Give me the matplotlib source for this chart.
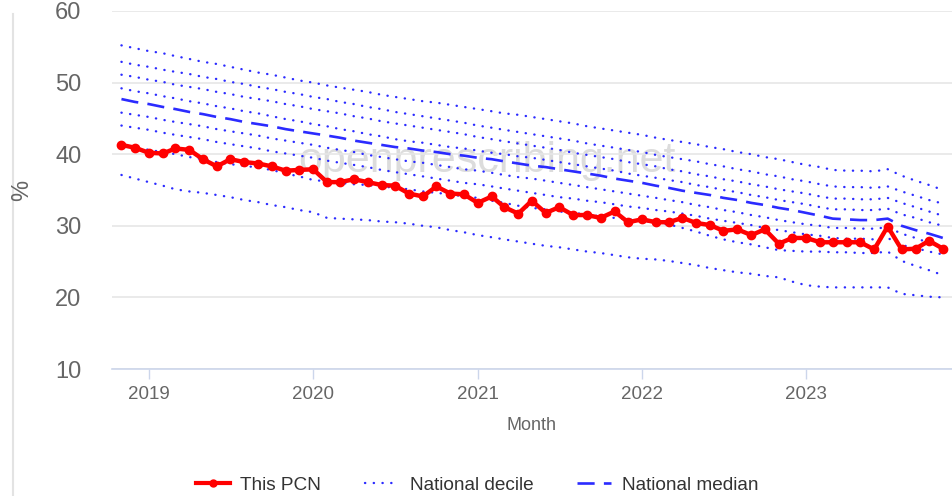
import datetime as dt
import pandas as pd
import matplotlib
matplotlib.use("Agg")
import matplotlib.pyplot as plt
import matplotlib.dates as mdates
from matplotlib.lines import Line2D

plt.rcParams['font.family'] = ['Liberation Sans', 'DejaVu Sans']

# monthly values, Nov 2018 .. Nov 2023
months = pd.date_range('2018-11-01', periods=61, freq='MS')

this_pcn = [41.3, 40.9, 40.2, 40.1, 40.8, 40.6, 39.3, 38.3, 39.3, 38.9,
            38.7, 38.3, 37.7, 37.8, 37.9, 36.1, 36.1, 36.5, 36.1, 35.7,
            35.6, 34.5, 34.1, 35.5, 34.5, 34.4, 33.2, 34.1, 32.6, 31.7,
            33.5, 31.8, 32.6, 31.5, 31.5, 31.1, 32.0, 30.5, 30.9, 30.5,
            30.5, 31.1, 30.4, 30.1, 29.3, 29.5, 28.7, 29.5, 27.5, 28.3,
            28.3, 27.7, 27.7, 27.7, 27.7, 26.7, 29.9, 26.7, 26.8, 27.9,
            26.8]

p90 = [55.2, 54.8, 54.4, 54.1, 53.7, 53.3, 52.9, 52.6, 52.2, 51.8,
       51.4, 51.1, 50.7, 50.3, 50.0, 49.6, 49.3, 49.0, 48.7, 48.3,
       48.0, 47.7, 47.4, 47.2, 46.9, 46.6, 46.3, 46.0, 45.7, 45.5,
       45.2, 44.9, 44.6, 44.3, 43.9, 43.6, 43.3, 43.0, 42.7, 42.3,
       42.0, 41.7, 41.4, 41.0, 40.7, 40.3, 40.0, 39.6, 39.3, 38.9,
       38.5, 38.2, 37.8, 37.7, 37.7, 37.6, 37.9, 37.0, 36.3, 35.7,
       35.0]
p80 = [52.9, 52.5, 52.2, 51.8, 51.5, 51.2, 50.8, 50.5, 50.1, 49.8,
       49.4, 49.1, 48.7, 48.4, 48.0, 47.7, 47.3, 47.0, 46.6, 46.3,
       45.9, 45.6, 45.3, 45.0, 44.7, 44.4, 44.0, 43.7, 43.4, 43.1,
       42.8, 42.5, 42.2, 41.9, 41.5, 41.2, 40.9, 40.6, 40.3, 39.9,
       39.6, 39.3, 39.0, 38.6, 38.3, 37.9, 37.6, 37.2, 36.9, 36.5,
       36.2, 35.8, 35.5, 35.4, 35.4, 35.3, 35.5, 34.8, 34.2, 33.6,
       33.1]
p70 = [51.1, 50.8, 50.4, 50.1, 49.7, 49.4, 49.1, 48.7, 48.4, 48.0,
       47.7, 47.4, 47.0, 46.7, 46.3, 46.0, 45.7, 45.3, 45.0, 44.6,
       44.3, 44.0, 43.7, 43.4, 43.1, 42.8, 42.4, 42.1, 41.8, 41.5,
       41.2, 40.9, 40.6, 40.2, 39.9, 39.6, 39.3, 38.9, 38.6, 38.3,
       37.9, 37.6, 37.2, 36.9, 36.5, 36.2, 35.8, 35.5, 35.1, 34.8,
       34.5, 34.1, 33.8, 33.8, 33.7, 33.7, 33.9, 33.2, 32.6, 32.0,
       31.4]
p60 = [49.2, 48.8, 48.5, 48.1, 47.8, 47.4, 47.1, 46.7, 46.4, 46.0,
       45.7, 45.3, 44.9, 44.6, 44.2, 43.9, 43.5, 43.2, 42.8, 42.5,
       42.1, 41.8, 41.6, 41.3, 41.0, 40.8, 40.5, 40.2, 40.0, 39.7,
       39.5, 39.2, 38.9, 38.6, 38.3, 38.0, 37.7, 37.3, 37.0, 36.7,
       36.4, 36.1, 35.7, 35.4, 35.0, 34.7, 34.3, 34.0, 33.6, 33.3,
       33.0, 32.6, 32.3, 32.3, 32.2, 32.2, 32.4, 31.6, 31.1, 30.5,
       30.0]
median = [47.7, 47.3, 47.0, 46.6, 46.3, 45.9, 45.6, 45.2, 44.9, 44.5,
          44.2, 43.9, 43.5, 43.2, 42.9, 42.6, 42.3, 41.9, 41.6, 41.3,
          41.0, 40.8, 40.5, 40.3, 40.0, 39.8, 39.5, 39.3, 39.0, 38.7,
          38.4, 38.2, 37.9, 37.6, 37.3, 37.0, 36.6, 36.3, 36.0, 35.6,
          35.3, 34.9, 34.6, 34.3, 33.9, 33.6, 33.2, 32.9, 32.5, 32.2,
          31.8, 31.4, 31.0, 30.9, 30.8, 30.8, 31.0, 30.0, 29.4, 28.9,
          28.3]
p40 = [45.8, 45.5, 45.2, 44.8, 44.5, 44.2, 43.9, 43.5, 43.2, 42.9,
       42.6, 42.2, 41.9, 41.6, 41.3, 40.9, 40.6, 40.3, 39.9, 39.6,
       39.3, 39.0, 38.8, 38.5, 38.2, 37.9, 37.7, 37.4, 37.1, 36.8,
       36.6, 36.3, 36.0, 35.7, 35.4, 35.1, 34.8, 34.5, 34.2, 33.9,
       33.6, 33.3, 32.9, 32.6, 32.2, 31.9, 31.5, 31.2, 30.8, 30.5,
       30.2, 30.0, 29.7, 29.7, 29.6, 29.6, 29.8, 28.9, 28.3, 27.6,
       27.0]
p30 = [44.0, 43.7, 43.4, 43.0, 42.7, 42.4, 42.1, 41.7, 41.4, 41.1,
       40.8, 40.4, 40.1, 39.8, 39.5, 39.1, 38.8, 38.5, 38.2, 37.8,
       37.5, 37.2, 36.9, 36.6, 36.3, 36.0, 35.8, 35.5, 35.2, 34.9,
       34.6, 34.3, 34.0, 33.8, 33.5, 33.3, 33.0, 32.7, 32.5, 32.2,
       32.0, 31.7, 31.4, 31.0, 30.7, 30.4, 30.1, 29.7, 29.4, 29.1,
       28.8, 28.6, 28.3, 28.2, 28.2, 28.1, 28.3, 27.3, 26.9, 26.4,
       26.0]
p20 = [41.3, 41.0, 40.6, 40.3, 40.0, 39.6, 39.3, 38.9, 38.6, 38.4,
       38.1, 37.8, 37.3, 36.9, 36.4, 36.2, 36.0, 35.8, 35.7, 35.5,
       35.3, 35.1, 34.8, 34.6, 34.4, 34.1, 33.9, 33.5, 33.2, 32.8,
       32.5, 32.3, 32.0, 31.8, 31.6, 31.3, 31.1, 30.9, 30.7, 30.4,
       30.2, 29.7, 29.2, 28.6, 28.1, 27.7, 27.4, 27.0, 26.6, 26.5,
       26.4, 26.4, 26.3, 26.3, 26.2, 26.2, 26.4, 25.1, 24.4, 23.8,
       23.1]
p10 = [37.1, 36.6, 36.1, 35.6, 35.1, 34.8, 34.6, 34.3, 34.0, 33.6,
       33.3, 32.9, 32.6, 32.2, 31.9, 31.1, 31.0, 30.9, 30.8, 30.6,
       30.5, 30.3, 30.0, 29.8, 29.4, 29.1, 28.7, 28.4, 28.1, 27.8,
       27.5, 27.2, 27.0, 26.7, 26.4, 26.2, 25.9, 25.6, 25.4, 25.3,
       25.1, 24.8, 24.5, 24.1, 23.8, 23.5, 23.3, 23.0, 22.8, 22.2,
       21.7, 21.5, 21.4, 21.4, 21.4, 21.4, 21.4, 20.5, 20.3, 20.1,
       20.0]

deciles = [p10, p20, p30, p40, p60, p70, p80, p90]

grey = '#666666'
blue = '#2b2bff'
dots = (0, (0.1, 3.6))
dashes = (0, (6.5, 3.5))

fig = plt.figure(figsize=(9.52, 4.96), dpi=100)
ax = fig.add_axes([112 / 952, 1 - 369 / 496, 840 / 952, 358 / 496])

# watermark
ax.text(0.446, 1 - 161 / 358, 'openprescribing.net', transform=ax.transAxes,
        fontsize=31, color='#d4d4d4', alpha=0.8, ha='center', va='baseline',
        zorder=0)

for d in deciles:
    ax.plot(months, d, color=blue, lw=1.7, linestyle=dots,
            dash_capstyle='round', zorder=2)
ax.plot(months, median, color=blue, lw=1.9, linestyle=dashes, zorder=3)
ax.plot(months, this_pcn, color='#ff0000', lw=3.2, marker='o', markersize=6,
        zorder=4)

ax.set_ylim(10, 60)
ax.set_yticks([10, 20, 30, 40, 50, 60])
ax.set_xlim(dt.date(2018, 10, 11), dt.date(2023, 11, 21))
ax.xaxis.set_major_locator(mdates.YearLocator())
ax.xaxis.set_major_formatter(mdates.DateFormatter('%Y'))

ax.grid(axis='y', color='#e6e6e6', lw=1.2)
ax.set_axisbelow(True)
for s in ['top', 'left', 'right']:
    ax.spines[s].set_visible(False)
ax.spines['bottom'].set_color('#ccd6eb')
ax.spines['bottom'].set_linewidth(1.2)
ax.spines['bottom'].set_zorder(5)

ax.tick_params(axis='y', length=0, pad=22, labelsize=17, labelcolor=grey)
ax.tick_params(axis='x', length=7, width=1, color='#ccd6eb', pad=5,
               labelsize=13.5, labelcolor=grey)

fig.text(22 / 952, 1 - 190 / 496, '%', rotation=90, fontsize=17, color=grey,
         ha='center', va='center')
fig.text(532 / 952, 1 - 426 / 496, 'Month', fontsize=13, color=grey,
         ha='center', va='center')

# card border on the left
fig.add_artist(Line2D([12.5 / 952, 12.5 / 952], [0, 1 - 14 / 496],
                      color='#e3e3e3', lw=1.5))

handles = [
    Line2D([], [], color='#ff0000', lw=3, marker='o', markersize=5),
    Line2D([], [], color=blue, lw=1.7, linestyle=dots, dash_capstyle='round'),
    Line2D([], [], color=blue, lw=1.9, linestyle=dashes),
]
labels = ['This PCN', 'National decile', 'National median']
fig.legend(handles, labels, loc='center', bbox_to_anchor=(477 / 952, 1 - 485 / 496),
           ncol=3, frameon=False, fontsize=13.7, handlelength=1.8,
           handletextpad=0.55, columnspacing=2.3, labelcolor='#333333')

fig.savefig('out.png', dpi=100)
